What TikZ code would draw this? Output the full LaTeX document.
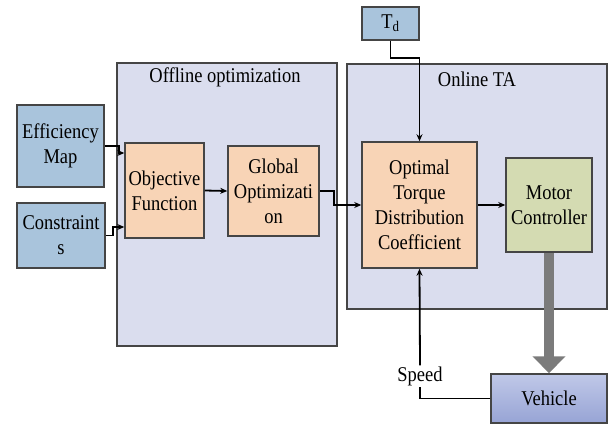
\documentclass[tikz,border=0pt]{standalone}
\usepackage{fontspec}
\setmainfont{Liberation Serif}
\usetikzlibrary{arrows.meta}

\definecolor{inblue}{HTML}{A9C4DC}
\definecolor{procorange}{HTML}{F8D4B6}
\definecolor{ctrlgreen}{HTML}{D4DBB2}
\definecolor{panel}{HTML}{DADDEE}
\definecolor{edge}{HTML}{454545}
\definecolor{bigarrow}{HTML}{7B7B7B}
\definecolor{vehtop}{HTML}{C0C8E8}
\definecolor{vehbot}{HTML}{97A4D5}

% horizontally condensed text, as set in the figure
\newcommand{\narrow}[1]{\scalebox{0.88}[1]{#1}}

\tikzset{
  txt/.style={font=\fontsize{21}{25}\selectfont, text=black},
  box/.style={txt, draw=edge, line width=1.5pt, inner sep=0pt, align=center},
  inputbox/.style={box, fill=inblue},
  procbox/.style={box, fill=procorange},
  ctrlbox/.style={box, fill=ctrlgreen},
  panelbox/.style={draw=edge, line width=1.5pt, fill=panel, inner sep=0pt},
  conn/.style={line width=1.8pt, black, -{Stealth[length=7pt,width=6pt]}},
  plainconn/.style={line width=1.8pt, black},
}

\begin{document}
\begin{tikzpicture}[x=1pt, y=-1pt]
  \useasboundingbox (0,0) rectangle (610,425);

  % grouping panels
  \node[panelbox, minimum width=220, minimum height=283] (offline) at (227,204.5) {};
  \node[panelbox, minimum width=260, minimum height=245] (online) at (477,186.5) {};
  \node[txt] (offtitle) at (225,77) {\narrow{Offline optimization}};
  \node[txt] (ontitle) at (477,79) {\narrow{Online TA}};

  % inputs
  \node[inputbox, minimum width=57, minimum height=33] (td) at (390.5,23.5) {\narrow{T\textsubscript{d}}};
  \node[inputbox, minimum width=87, minimum height=82] (eff) at (60.5,146) {\narrow{Efficiency}\\\narrow{Map}};
  \node[inputbox, minimum width=88, minimum height=65] (cons) at (61,235.5) {\narrow{Constraint}\\\narrow{s}};

  % processing blocks
  \node[procbox, minimum width=79, minimum height=95] (obj) at (164.5,190.5) {\narrow{Objective}\\\narrow{Function}};
  \node[procbox, minimum width=91, minimum height=90] (glob) at (273.5,191) {\narrow{Global}\\\narrow{Optimizati}\\\narrow{on}};
  \node[procbox, minimum width=115, minimum height=126] (opt) at (419.5,205) {\narrow{Optimal}\\\narrow{Torque}\\\narrow{Distribution}\\\narrow{Coefficient}};
  \node[ctrlbox, minimum width=86, minimum height=94] (motor) at (549,205) {\narrow{Motor}\\\narrow{Controller}};

  % plant
  \node[box, top color=vehtop, bottom color=vehbot, minimum width=116, minimum height=49] (veh) at (549,398.5) {\narrow{Vehicle}};
  \node[txt, inner sep=1pt] (speed) at (420,376) {\narrow{Speed}};

  % signal paths
  \draw[conn] (eff.east) -- ++(14,0) |- ([yshift=37.5pt]obj.west);
  \draw[conn] (cons.east) -- ++(7,0) |- ([yshift=-36.5pt]obj.west);
  \draw[conn] (obj.east) -- (glob.west);
  \draw[conn] (glob.east) -- ++(14,0) |- (opt.west);
  \draw[conn] (opt.east) -- (motor.west);
  \draw[conn] (td.south) -- ++(0,17) -| (opt.north);
  \draw[plainconn] (veh.west) -| (speed.south);
  \draw[conn] (speed.north) -- (opt.south);

  % actuation path
  \draw[bigarrow, line width=10pt, -{Triangle[length=17pt,width=32pt]}] (motor.south) -- (veh.north);
\end{tikzpicture}
\end{document}
